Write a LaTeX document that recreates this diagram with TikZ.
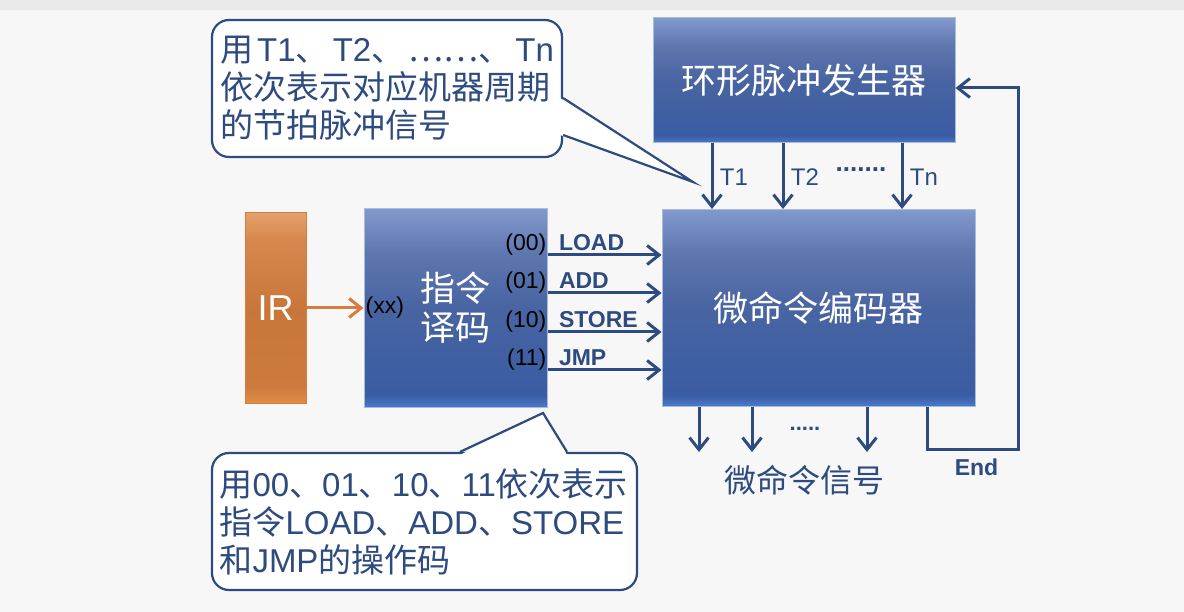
\documentclass[tikz,border=0pt]{standalone}
\usepackage{fontspec}
\setmainfont{Liberation Sans}
\newfontfamily\cjk{Noto Sans CJK SC}
\usepackage{tikz}
\usetikzlibrary{arrows.meta,positioning}

\definecolor{lineblue}{HTML}{2E4B7F}
\definecolor{boxedge}{HTML}{A8BCE2}
\definecolor{irline}{HTML}{D67C3C}
\definecolor{pagebg}{HTML}{F7F7F7}
\definecolor{topband}{HTML}{EAEAEA}

% vertical shadings (the node spans 25bp..75bp)
\pgfdeclareverticalshading{boxshade}{100bp}{color(0bp)=(rgb,255:red,74;green,122;blue,203); color(25bp)=(rgb,255:red,74;green,122;blue,203); color(28bp)=(rgb,255:red,58;green,92;blue,163); color(50bp)=(rgb,255:red,72;green,100;blue,162); color(64bp)=(rgb,255:red,94;green,119;blue,174); color(75bp)=(rgb,255:red,130;green,153;blue,205); color(100bp)=(rgb,255:red,130;green,153;blue,205)}
\pgfdeclareverticalshading{irshade}{100bp}{color(0bp)=(rgb,255:red,226;green,140;blue,72); color(25bp)=(rgb,255:red,226;green,140;blue,72); color(29bp)=(rgb,255:red,206;green,122;blue,62); color(50bp)=(rgb,255:red,201;green,118;blue,59); color(68bp)=(rgb,255:red,215;green,136;blue,78); color(75bp)=(rgb,255:red,228;green,160;blue,106); color(100bp)=(rgb,255:red,228;green,160;blue,106)}

\begin{document}
\begin{tikzpicture}[x=1pt, y=-1pt, >={Straight Barb[length=12pt,width=19pt]}]
    % Define styles
    \tikzstyle{block} = [rectangle, inner sep=0pt, draw=boxedge, line width=1pt, shading=boxshade, text=white, align=center, font=\cjk\fontsize{35}{39}\selectfont]
    \tikzstyle{regbox} = [rectangle, inner sep=0pt, draw=irline, line width=1pt, shading=irshade, text=white, font=\fontsize{36}{40}\selectfont]
    \tikzstyle{note} = [rectangle, rounded corners=17pt, draw=lineblue, line width=2.2pt, fill=white, text=lineblue, align=left, font=\fontsize{33}{38}\selectfont]
    \tikzstyle{signal} = [draw=lineblue, line width=3pt]
    \tikzstyle{tlabel} = [text=lineblue, font=\fontsize{24}{28}\selectfont]
    \tikzstyle{oplabel} = [text=lineblue, inner sep=2pt, font=\bfseries\fontsize{23}{27}\selectfont]
    \tikzstyle{codelabel} = [text=black, inner sep=0pt, font=\fontsize{23}{27}\selectfont]

    % Page
    \useasboundingbox (0,0) rectangle (1184,612);
    \fill[pagebg] (0,0) rectangle (1184,612);
    \fill[topband] (0,0) rectangle (1184,10);

    % Nodes
    \node[block, minimum width=302pt, minimum height=125pt] (ring) at (804,80.5) {环形脉冲发生器};
    \node[regbox, minimum width=61pt, minimum height=190pt] (ir) at (275.5,308) {IR};
    \node[block, minimum width=183pt, minimum height=198pt, right=57pt of ir] (decoder) {指令\\译码};
    \node[block, minimum width=313pt, minimum height=197pt, right=114pt of decoder] (encoder) {微命令编码器};
    \node[codelabel, anchor=west, inner sep=2pt] (xx) at (decoder.west) {(xx)};

    % Callouts
    \node[note, minimum width=350pt, minimum height=137pt, text width=334pt] (note1) at (387,88.5)
        {\makebox[334pt][s]{{\cjk 用}\hspace{0pt plus 1fil}T1{\cjk 、}\hspace{0pt plus 1fil}T2{\cjk 、}\hspace{0pt plus 1fil}{\cjk ……}{\cjk 、}\hspace{0pt plus 1fil}Tn}\\
         {\cjk 依次表示对应机器周期}\\
         {\cjk 的节拍脉冲信号}};
    \coordinate (tip1) at (693,182);
    \fill[white] ([xshift=-3pt,yshift=-9.5pt]note1.east) -- (tip1) -- ([xshift=-3pt,yshift=-46.5pt]note1.east) -- cycle;
    \draw[lineblue, line width=2.2pt] ([yshift=-9.5pt]note1.east) -- (tip1) -- ([yshift=-46.5pt]note1.east);

    \node[note, minimum width=425pt, minimum height=137pt, text width=410pt] (note2) at (424.5,521.5)
        {{\cjk 用}00{\cjk 、}01{\cjk 、}10{\cjk 、}11{\cjk 依次表示}\\
         {\cjk 指令}LOAD{\cjk 、}ADD{\cjk 、}STORE\\
         {\cjk 和}JMP{\cjk 的操作码}};
    \coordinate (tip2) at (543,413);
    \fill[white] ([xshift=35.5pt,yshift=-3pt]note2.north) -- (tip2) -- ([xshift=142.5pt,yshift=-3pt]note2.north) -- cycle;
    \draw[lineblue, line width=2.2pt] ([xshift=35.5pt]note2.north) -- (tip2) -- ([xshift=142.5pt]note2.north);

    % Clock pulses
    \coordinate (t1) at (712,0);
    \coordinate (t2) at (783,0);
    \coordinate (tn) at (902,0);
    \draw[signal,->] (ring.south -| t1) -- node[tlabel, right, xshift=3pt, yshift=-1pt] (t1txt) {T1} (encoder.north -| t1);
    \draw[signal,->] (ring.south -| t2) -- node[tlabel, right, xshift=3pt, yshift=-1pt] (t2txt) {T2} (encoder.north -| t2);
    \draw[signal,->] (ring.south -| tn) -- node[tlabel, right, xshift=3pt, yshift=-1pt] (tntxt) {Tn} (encoder.north -| tn);
    \node[text=lineblue, inner sep=0pt, font=\bfseries\fontsize{26}{30}\selectfont] (tdots) at (861,170) {.......};

    % Instruction register to decoder
    \draw[irline, line width=3pt, ->] (ir.east) -- (ir.east -| decoder.west);

    % Decoded operations
    \coordinate (op1) at (0,255);
    \coordinate (op2) at (0,293);
    \coordinate (op3) at (0,332);
    \coordinate (op4) at (0,370);
    \draw[signal,->] (decoder.east |- op1) -- node[oplabel, pos=0, anchor=south west, xshift=8pt, yshift=1pt] (load) {LOAD} (encoder.west |- op1);
    \draw[signal,->] (decoder.east |- op2) -- node[oplabel, pos=0, anchor=south west, xshift=8pt, yshift=1pt] (add) {ADD} (encoder.west |- op2);
    \draw[signal,->] (decoder.east |- op3) -- node[oplabel, pos=0, anchor=south west, xshift=8pt, yshift=1pt] (store) {STORE} (encoder.west |- op3);
    \draw[signal,->] (decoder.east |- op4) -- node[oplabel, pos=0, anchor=south west, xshift=8pt, yshift=1pt] (jmp) {JMP} (encoder.west |- op4);
    \node[codelabel, anchor=south east, xshift=-1pt] (c00) at (decoder.east |- op1) {(00)};
    \node[codelabel, anchor=south east, xshift=-1pt] (c01) at (decoder.east |- op2) {(01)};
    \node[codelabel, anchor=south east, xshift=-1pt] (c10) at (decoder.east |- op3) {(10)};
    \node[codelabel, anchor=south east, xshift=-1pt] (c11) at (decoder.east |- op4) {(11)};

    % Micro-operation signals
    \coordinate (m1) at (699,452);
    \coordinate (m2) at (752,452);
    \coordinate (m3) at (867,452);
    \draw[signal,->] (encoder.south -| m1) -- (m1);
    \draw[signal,->] (encoder.south -| m2) -- (m2);
    \draw[signal,->] (encoder.south -| m3) -- (m3);
    \node[text=lineblue, inner sep=0pt, font=\bfseries\fontsize{22}{26}\selectfont] (mdots) at (805,429) {.....};
    \node[text=lineblue, font=\cjk\fontsize{32}{36}\selectfont] (signals) at (804,480) {微命令信号};

    % Feedback to the ring counter
    \coordinate (fbl) at (927,449);
    \coordinate (fbr) at (1018,449);
    \coordinate (fbt) at (1018,88);
    \draw[signal,->] (encoder.south -| fbl) -- (fbl) -- node[oplabel, below=6pt, xshift=4pt] (endtxt) {End} (fbr) -- (fbt) -- (ring.east |- fbt);
\end{tikzpicture}
\end{document}
